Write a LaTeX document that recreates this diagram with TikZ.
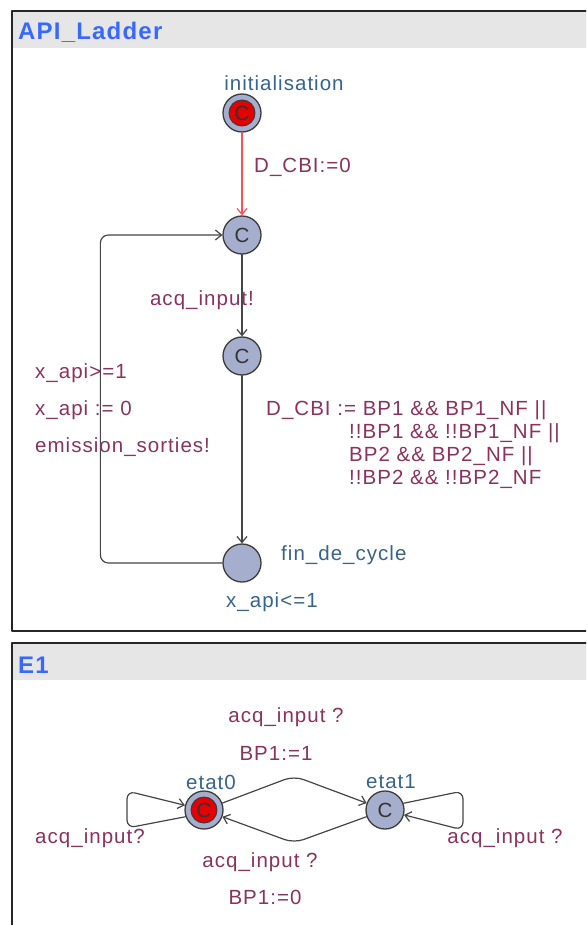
\documentclass[tikz,border=0pt]{standalone}
\usepackage{fontspec}
\setmainfont{Liberation Sans}[LetterSpace=5]
\usetikzlibrary{arrows.meta}

\definecolor{locfill}{RGB}{166,174,206}
\definecolor{locline}{RGB}{60,60,60}
\definecolor{initred}{RGB}{230,0,0}
\definecolor{loclabel}{RGB}{55,100,140}
\definecolor{edgelabel}{RGB}{140,50,95}
\definecolor{edgecol}{RGB}{70,70,70}
\definecolor{arrowred}{RGB}{255,80,80}
\definecolor{titleblue}{RGB}{55,105,255}
\definecolor{barfill}{RGB}{230,230,230}

\begin{document}
\begin{tikzpicture}[x=1pt,y=-1pt,line cap=round,line join=round,
  >={Straight Barb[length=6pt,width=10pt]},
  every node/.style={inner sep=0pt,font=\fontsize{20.5}{24}\selectfont},
  loc/.style={circle,draw=locline,fill=locfill,line width=1.3pt,minimum size=38pt,text=black!80},
  initloc/.style={loc,path picture={\draw[locline,fill=initred,line width=1pt] (path picture bounding box.center) circle (13pt);}},
  locname/.style={text=loclabel},
  guard/.style={text=edgelabel},
  trans/.style={->,draw=edgecol,line width=1.2pt},
  title/.style={text=titleblue,anchor=west,font=\fontsize{24}{28}\selectfont\bfseries},
  panel/.style={draw=black!85,line width=2pt}]
\useasboundingbox (0,0) rectangle (586,925);
\clip (0,0) rectangle (586,925);
\fill [white] (0,0) rectangle (586,925);

% API_Ladder
\fill [barfill] (12,11) rectangle (620,48);
\draw [panel] (12,11) rectangle (620,631);
\node [title] (tladder) at (18,32) {API\_Ladder};

\node [initloc] (init) at (242,113) {C};
\node [loc] (acq) at (242,235) {C};
\node [loc] (calc) at (242,356) {C};
\node [loc] (fin) at (242,563) {};

\node [locname] (ninit) at (284,83) {initialisation};
\node [locname,anchor=west] (nfin) at (281,555) {fin\_de\_cycle};
\node [locname,anchor=west] (inv) at (226,602) {x\_api<=1};

\draw [trans,draw=arrowred] (init) -- (acq);
\draw [trans] (acq) -- (calc);
\draw [trans] (calc) -- (fin);
\draw [trans,rounded corners=8pt] (fin.west) -- ++(-122,0) |- (acq.west);

\node [guard,anchor=west] (g1) at (254,167) {D\_CBI:=0};
\node [guard] (g2) at (202,300) {acq\_input!};
\node [guard,anchor=west] (g3) at (35,373) {x\_api>=1};
\node [guard,anchor=west] (g4) at (35,410) {x\_api := 0};
\node [guard,anchor=west] (g5) at (35,447) {emission\_sorties!};
\node [guard,anchor=west] (u1) at (266,410) {D\_CBI := BP1 \&\& BP1\_NF ||};
\node [guard,anchor=west] (u2) at (349,433) {!!BP1 \&\& !!BP1\_NF ||};
\node [guard,anchor=west] (u3) at (349,456) {BP2 \&\& BP2\_NF ||};
\node [guard,anchor=west] (u4) at (349,479) {!!BP2 \&\& !!BP2\_NF};

% E1
\fill [barfill] (12,643) rectangle (620,680);
\draw [panel] (12,643) rectangle (620,960);
\node [title] (te1) at (18,665) {E1};

\node [initloc] (etat0) at (204,810) {C};
\node [loc] (etat1) at (385,810) {C};
\node [locname] (n0) at (211,782) {etat0};
\node [locname] (n1) at (391,782) {etat1};

\coordinate (top) at (294,776);
\coordinate (bot) at (294,843);
\draw [trans,rounded corners=10pt] (etat0) -- (top) -- (etat1);
\draw [trans,rounded corners=10pt] (etat1) -- (bot) -- (etat0);
\draw [trans,rounded corners=8pt] (etat0.200) -- (127,828) -- (127,791) -- (etat0);
\draw [trans,rounded corners=8pt] (etat1.20) -- (463,791) -- (463,830) -- (etat1);

\node [guard] (a1) at (286,717) {acq\_input ?};
\node [guard] (b1) at (276,753) {BP1:=1};
\node [guard] (a0) at (260,862) {acq\_input ?};
\node [guard] (b0) at (265,897) {BP1:=0};
\node [guard] (l0) at (90,838) {acq\_input?};
\node [guard] (l1) at (505,838) {acq\_input ?};
\end{tikzpicture}
\end{document}
